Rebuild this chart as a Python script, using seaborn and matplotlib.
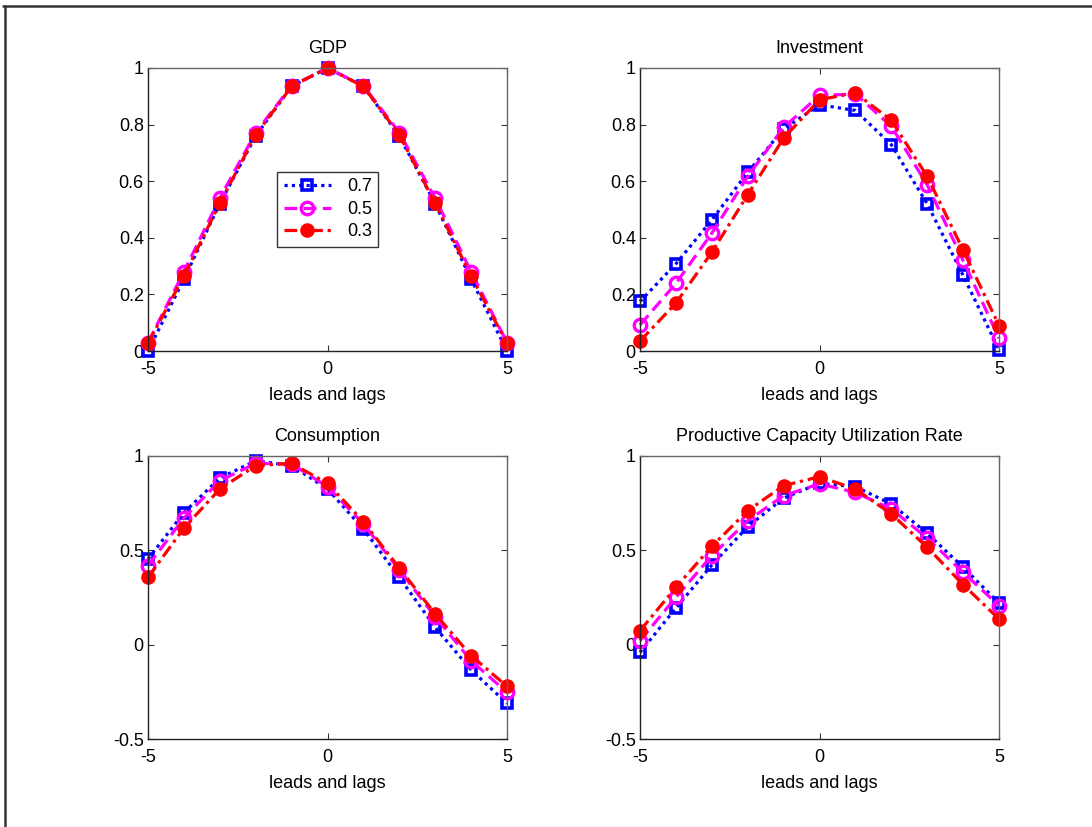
import numpy as np
import pandas as pd
import matplotlib
matplotlib.use("Agg")
import matplotlib.pyplot as plt
from matplotlib.lines import Line2D
import seaborn as sns

# --- Data
lags = [-5, -4, -3, -2, -1, 0, 1, 2, 3, 4, 5]
series_names = ["0.7", "0.5", "0.3"]

gdp_07 = [0.00, 0.254, 0.520, 0.760, 0.935, 1.000, 0.935, 0.760, 0.520, 0.254, 0.00]
gdp_05 = [0.03, 0.280, 0.540, 0.772, 0.937, 1.000, 0.937, 0.772, 0.540, 0.280, 0.03]
gdp_03 = [0.027, 0.265, 0.522, 0.764, 0.935, 1.000, 0.935, 0.764, 0.522, 0.265, 0.027]

inv_07 = [0.175, 0.308, 0.463, 0.631, 0.785, 0.870, 0.850, 0.729, 0.520, 0.267, 0.004]
inv_05 = [0.092, 0.239, 0.416, 0.617, 0.790, 0.903, 0.908, 0.794, 0.587, 0.320, 0.045]
inv_03 = [0.035, 0.169, 0.349, 0.552, 0.752, 0.888, 0.912, 0.815, 0.617, 0.357, 0.090]

cons_07 = [0.454, 0.700, 0.883, 0.975, 0.949, 0.825, 0.613, 0.357, 0.092, -0.134, -0.311]
cons_05 = [0.419, 0.671, 0.869, 0.961, 0.958, 0.837, 0.640, 0.396, 0.148, -0.085, -0.253]
cons_03 = [0.357, 0.618, 0.825, 0.949, 0.961, 0.855, 0.652, 0.406, 0.163, -0.058, -0.221]

pcu_07 = [-0.041, 0.194, 0.422, 0.625, 0.777, 0.855, 0.837, 0.746, 0.590, 0.410, 0.221]
pcu_05 = [0.021, 0.251, 0.472, 0.657, 0.790, 0.852, 0.807, 0.719, 0.565, 0.383, 0.207]
pcu_03 = [0.074, 0.304, 0.521, 0.710, 0.843, 0.890, 0.825, 0.693, 0.516, 0.318, 0.136]

panel_titles = ["GDP", "Investment", "Consumption", "Productive Capacity Utilization Rate"]
panel_data = [
    [gdp_07, gdp_05, gdp_03],
    [inv_07, inv_05, inv_03],
    [cons_07, cons_05, cons_03],
    [pcu_07, pcu_05, pcu_03],
]
top_yticks = [0, 0.2, 0.4, 0.6, 0.8, 1]
bottom_yticks = [-0.5, 0, 0.5, 1]

# --- Style
sns.set_style("ticks")
plt.rcParams["font.family"] = ["Liberation Sans", "DejaVu Sans"]
plt.rcParams["font.size"] = 13
plt.rcParams["text.color"] = "black"
plt.rcParams["xtick.color"] = "black"
plt.rcParams["ytick.color"] = "black"
plt.rcParams["axes.labelcolor"] = "black"

styles = [
    dict(color="#0000FF", linestyle=(0, (1, 1.3)), marker="s", markersize=7.5,
         markerfacecolor="none", markeredgecolor="#0000FF", markeredgewidth=2.6),
    dict(color="#FF00FF", linestyle=(0, (4, 2)), marker="o", markersize=9,
         markerfacecolor="none", markeredgecolor="#FF00FF", markeredgewidth=2.4),
    dict(color="#FF0000", linestyle=(0, (4, 1.5, 1, 1.5)), marker="o", markersize=9,
         markerfacecolor="#FF0000", markeredgecolor="#FF0000", markeredgewidth=1.5),
]

fig = plt.figure(figsize=(10.92, 8.27), dpi=100)
fig.patch.set_facecolor("white")

ax_w = 359 / 1092
ax_h = 283 / 827
positions = [
    [148 / 1092, (827 - 351) / 827, ax_w, ax_h],
    [640 / 1092, (827 - 351) / 827, ax_w, ax_h],
    [148 / 1092, (827 - 739) / 827, ax_w, ax_h],
    [640 / 1092, (827 - 739) / 827, ax_w, ax_h],
]

for i, (title, data) in enumerate(zip(panel_titles, panel_data)):
    ax = fig.add_axes(positions[i])
    for name, vals, st in zip(series_names, data, styles):
        sns.lineplot(x=lags, y=vals, ax=ax, linewidth=2.3, label=name, **st)
    ax.set_xlim(-5, 5)
    ax.set_xticks([-5, 0, 5])
    ax.set_xticklabels(["-5", "0", "5"])
    if i < 2:
        ax.set_ylim(0, 1)
        ax.set_yticks(top_yticks)
        ax.set_yticklabels(["0", "0.2", "0.4", "0.6", "0.8", "1"])
    else:
        ax.set_ylim(-0.5, 1)
        ax.set_yticks(bottom_yticks)
        ax.set_yticklabels(["-0.5", "0", "0.5", "1"])
    ax.set_title(title, fontsize=13, pad=11)
    ax.set_xlabel("leads and lags", fontsize=13, labelpad=6)
    ax.set_ylabel("")
    ax.tick_params(direction="in", length=4, width=0.8, top=True, right=True,
                   labelsize=13, pad=3, color="#333333")
    ax.tick_params(axis="x", pad=7.5)
    for side in ["top", "right"]:
        ax.spines[side].set_visible(True)
        ax.spines[side].set_color("#666666")
    for side in ["left", "bottom"]:
        ax.spines[side].set_color("#222222")
    for sp in ax.spines.values():
        sp.set_linewidth(1.0)
    for ln in ax.lines:
        ln.set_clip_on(False)
    if i == 0:
        leg = ax.legend(loc="upper left", bbox_to_anchor=(0.36, 0.632), fontsize=13,
                        frameon=True, fancybox=False, handlelength=2.6,
                        borderpad=0.35, labelspacing=0.3, handletextpad=0.9,
                        borderaxespad=0)
        leg.get_frame().set_edgecolor("#333333")
        leg.get_frame().set_linewidth(1.0)
        leg.get_frame().set_alpha(1)
    else:
        lg = ax.get_legend()
        if lg is not None:
            lg.remove()

# outer frame (top and left edges)
fig.add_artist(Line2D([3 / 1092, 1.0], [1 - 6 / 827, 1 - 6 / 827], color="#333333", linewidth=1.8))
fig.add_artist(Line2D([5 / 1092, 5 / 1092], [0.0, 1 - 6 / 827], color="#333333", linewidth=1.8))

fig.savefig("out.png", dpi=100, facecolor="white")
